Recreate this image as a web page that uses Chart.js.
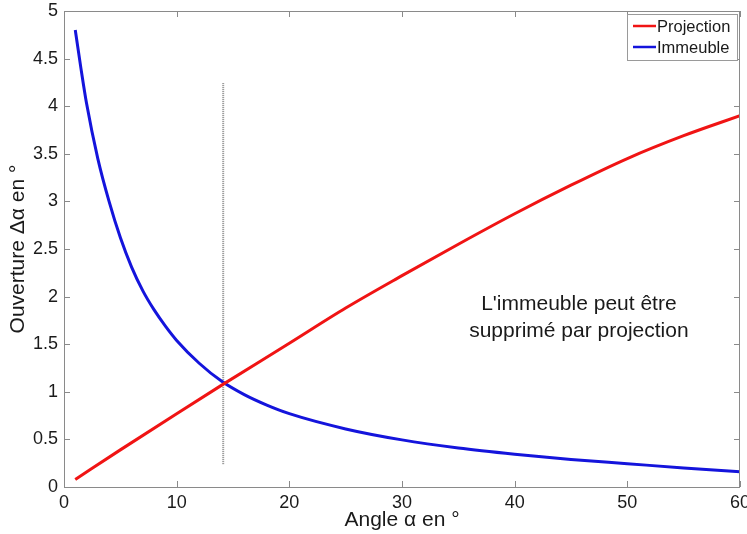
<!DOCTYPE html>
<html>
<head>
<meta charset="utf-8">
<script src="https://cdn.jsdelivr.net/npm/chart.js@4"></script>
<style>
  html, body { margin: 0; padding: 0; background: #fff; }
  #chart { display: block; }
</style>
</head>
<body>
<canvas id="chart" width="747" height="534"></canvas>
<script>
// Data
var projAngles = [1, 5, 10, 14, 20, 25, 30, 35, 40, 45, 50, 55, 60];
var projValues = [0.08, 0.39, 0.77, 1.07, 1.51, 1.88, 2.22, 2.55, 2.87, 3.17, 3.45, 3.69, 3.9];

var immAngles = [1, 1.5, 2, 3, 4, 5, 6, 7, 8, 9, 10, 12, 14, 16, 18, 20, 25, 30, 35, 40, 45, 50, 55, 60];
var immValues = [4.8, 4.4, 4.03, 3.45, 3.0, 2.62, 2.31, 2.06, 1.86, 1.69, 1.54, 1.3, 1.11, 0.97, 0.86, 0.77, 0.61, 0.495, 0.41, 0.345, 0.29, 0.245, 0.2, 0.16];

var markerAngle = 14.13;
var markerRange = [0.24, 4.25];

var seriesLabels = ["Projection", "Immeuble"];
var noteLines = ["L'immeuble peut être", "supprimé par projection"];

var FONT = "'Liberation Sans', Arial, Helvetica, sans-serif";
var AXIS_GRAY = "#8a8a8a";
var TEXT = "#1a1a1a";

function toPoints(xs, ys) {
  return xs.map(function (x, i) { return { x: x, y: ys[i] }; });
}

// box, inward ticks, legend and note drawn on top
var decorations = {
  id: "decorations",
  afterDraw: function (chart) {
    var ctx = chart.ctx;
    var a = chart.chartArea;
    var xs = chart.scales.x, ys = chart.scales.y;
    ctx.save();
    ctx.strokeStyle = AXIS_GRAY;
    ctx.lineWidth = 1;
    ctx.strokeRect(a.left + 0.5, a.top + 0.5, a.right - a.left - 1, a.bottom - a.top);
    ctx.beginPath();
    xs.ticks.forEach(function (t) {
      var px = Math.round(xs.getPixelForValue(t.value)) + 0.5;
      ctx.moveTo(px, a.bottom); ctx.lineTo(px, a.bottom - 6);
      ctx.moveTo(px, a.top); ctx.lineTo(px, a.top + 6);
    });
    ys.ticks.forEach(function (t) {
      var py = Math.round(ys.getPixelForValue(t.value)) + 0.5;
      ctx.moveTo(a.left, py); ctx.lineTo(a.left + 6, py);
      ctx.moveTo(a.right, py); ctx.lineTo(a.right - 6, py);
    });
    ctx.stroke();

    // legend box
    var lx = 627, ly = 14, lw = 110, lh = 46;
    ctx.fillStyle = "#fff";
    ctx.fillRect(lx, ly, lw, lh);
    ctx.strokeStyle = "#9a9a9a";
    ctx.strokeRect(lx + 0.5, ly + 0.5, lw, lh);
    ctx.font = "16.5px " + FONT;
    ctx.textBaseline = "middle";
    ctx.textAlign = "left";
    [0, 1].forEach(function (i) {
      var ds = chart.data.datasets[i];
      var yy = ly + 12 + i * 21;
      ctx.strokeStyle = ds.borderColor;
      ctx.lineWidth = 2.5;
      ctx.beginPath();
      ctx.moveTo(lx + 6, yy); ctx.lineTo(lx + 29, yy);
      ctx.stroke();
      ctx.fillStyle = TEXT;
      ctx.fillText(ds.label, lx + 30, yy + 1);
    });

    // note text
    ctx.font = "21px " + FONT;
    ctx.textAlign = "center";
    ctx.fillStyle = TEXT;
    var cx = xs.getPixelForValue(45.7);
    var cy = ys.getPixelForValue(1.92);
    noteLines.forEach(function (line, i) {
      ctx.fillText(line, cx, cy + i * 27);
    });
    ctx.restore();
  }
};

var canvas = document.getElementById("chart");

var chart = new Chart(canvas, {
  type: "line",
  data: {
    datasets: [
      {
        label: seriesLabels[0],
        data: toPoints(projAngles, projValues),
        borderColor: "#f01414",
        borderWidth: 3,
        pointRadius: 0,
        cubicInterpolationMode: "monotone",
        fill: false
      },
      {
        label: seriesLabels[1],
        data: toPoints(immAngles, immValues),
        borderColor: "#1414dc",
        borderWidth: 3,
        pointRadius: 0,
        cubicInterpolationMode: "monotone",
        fill: false
      },
      {
        label: "marker",
        data: [{ x: markerAngle, y: markerRange[0] }, { x: markerAngle, y: markerRange[1] }],
        borderColor: "#8c8c8c",
        borderWidth: 2,
        borderDash: [1, 1],
        pointRadius: 0,
        fill: false
      }
    ]
  },
  options: {
    responsive: false,
    animation: false,
    layout: { padding: { top: 11, right: 7, left: 0, bottom: 0 } },
    plugins: {
      legend: { display: false },
      tooltip: { enabled: false }
    },
    scales: {
      x: {
        type: "linear",
        min: 0,
        max: 60,
        grid: { display: false, drawTicks: false },
        border: { display: false },
        ticks: {
          stepSize: 10,
          padding: 5,
          color: TEXT,
          font: { family: FONT, size: 18 },
          maxRotation: 0
        },
        title: {
          display: true,
          text: "Angle α en °",
          color: TEXT,
          font: { family: FONT, size: 21 },
          padding: { top: 0, bottom: 1 }
        },
        afterFit: function (s) {
          s.height = 47;
          s.paddingLeft = 0;
          s.paddingRight = 0;
        }
      },
      y: {
        type: "linear",
        min: 0,
        max: 5,
        grid: { display: false, drawTicks: false },
        border: { display: false },
        ticks: {
          stepSize: 0.5,
          padding: 6,
          color: TEXT,
          font: { family: FONT, size: 18 },
          callback: function (v) { return String(v); }
        },
        title: {
          display: true,
          text: "Ouverture Δα en °",
          color: TEXT,
          font: { family: FONT, size: 21 },
          padding: { top: 6, bottom: 0 }
        },
        afterFit: function (s) {
          s.width = 64;
          s.paddingTop = 0;
          s.paddingBottom = 0;
        }
      }
    }
  },
  plugins: [decorations]
});
</script>
</body>
</html>
